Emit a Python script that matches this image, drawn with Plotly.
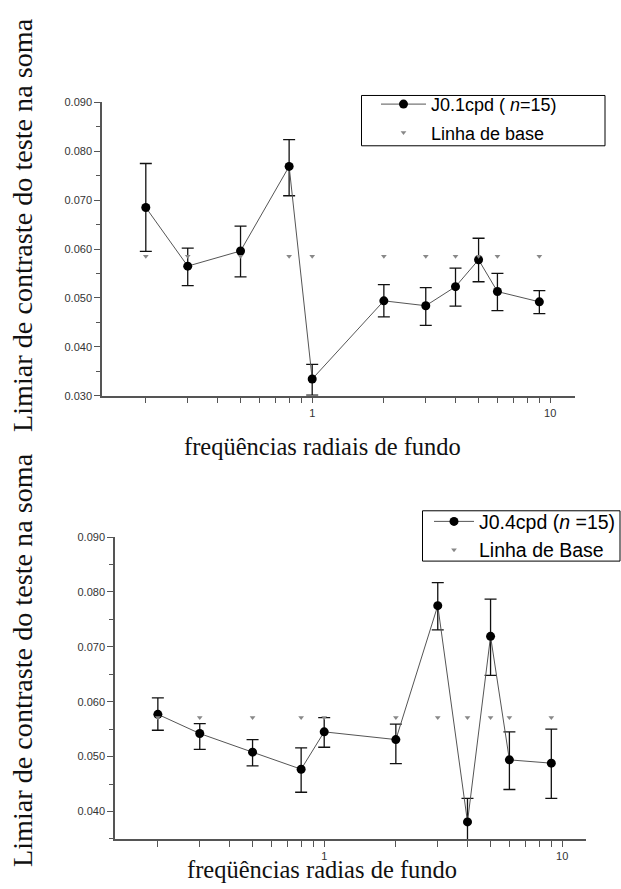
import plotly.graph_objects as go

# ---- data ----
freq = [0.2, 0.3, 0.5, 0.8, 1, 2, 3, 4, 5, 6, 9]

top_mean = [0.0685, 0.0565, 0.0596, 0.0769, 0.0334, 0.0494, 0.0484, 0.0523, 0.0578, 0.0513, 0.0492]
top_upper = [0.0775, 0.0602, 0.0647, 0.0824, 0.0364, 0.0527, 0.0521, 0.0561, 0.0622, 0.0550, 0.0515]
top_lower = [0.0595, 0.0525, 0.0543, 0.0709, 0.0301, 0.0461, 0.0444, 0.0483, 0.0533, 0.0474, 0.0468]
top_base = [0.0585] * 11

bot_mean = [0.0577, 0.0542, 0.0508, 0.0477, 0.0545, 0.0531, 0.0775, 0.0381, 0.0719, 0.0494, 0.0488]
bot_upper = [0.0607, 0.0560, 0.0531, 0.0516, 0.0571, 0.0559, 0.0817, 0.0424, 0.0787, 0.0545, 0.0550]
bot_lower = [0.0548, 0.0513, 0.0483, 0.0435, 0.0517, 0.0487, 0.0731, 0.0338, 0.0648, 0.0440, 0.0424]
bot_base = [0.0571] * 11

xtick_vals = [0.2, 0.3, 0.4, 0.5, 0.6, 0.7, 0.8, 0.9, 1, 2, 3, 4, 5, 6, 7, 8, 9, 10]
xtick_text = ["1" if v == 1 else ("10" if v == 10 else "") for v in xtick_vals]

ytitle = "Limiar de contraste do teste na soma"
xtitle_top = "freqüências radiais de fundo"
xtitle_bot = "freqüências radias de fundo"
leg_top = ["J0.1cpd ( <i>n</i>=15)", "Linha de base"]
leg_bot = ["J0.4cpd (<i>n</i> =15)", "Linha de Base"]

W, H = 621, 889
serif = "Liberation Serif, DejaVu Serif, serif"
sans = "Liberation Sans, Arial, sans-serif"


def px(x):
    return x / W


def py(y):
    return 1 - y / H


def err(mean, up, lo):
    return dict(type="data", symmetric=False,
                array=[u - m for u, m in zip(up, mean)],
                arrayminus=[m - l for m, l in zip(mean, lo)],
                color="#111", thickness=1.3, width=6)


fig = go.Figure()
fig.add_trace(go.Scatter(x=freq, y=top_mean, mode="lines+markers", name=leg_top[0],
                         line=dict(color="#555", width=1),
                         marker=dict(symbol="circle", size=9, color="black"),
                         error_y=err(top_mean, top_upper, top_lower),
                         xaxis="x", yaxis="y", legend="legend", legendgroup="a"))
fig.add_trace(go.Scatter(x=freq, y=top_base, mode="markers", name=leg_top[1],
                         marker=dict(symbol="triangle-down", size=5, color="#888"),
                         xaxis="x", yaxis="y", legend="legend", legendgroup="b"))
fig.add_trace(go.Scatter(x=freq, y=bot_mean, mode="lines+markers", name=leg_bot[0],
                         line=dict(color="#555", width=1),
                         marker=dict(symbol="circle", size=9, color="black"),
                         error_y=err(bot_mean, bot_upper, bot_lower),
                         xaxis="x2", yaxis="y2", legend="legend2", legendgroup="c"))
fig.add_trace(go.Scatter(x=freq, y=bot_base, mode="markers", name=leg_bot[1],
                         marker=dict(symbol="triangle-down", size=5, color="#888"),
                         xaxis="x2", yaxis="y2", legend="legend2", legendgroup="d"))

axis_common = dict(showline=True, linecolor="#555", linewidth=1.6, showgrid=False,
                   zeroline=False, ticks="outside", tickcolor="#555", ticklen=6,
                   tickwidth=1.2, tickfont=dict(family=sans, size=11, color="#333"))

xcommon = dict(axis_common, type="log", tickmode="array", tickvals=xtick_vals,
               ticktext=xtick_text)
ycommon = dict(axis_common, tickmode="linear", dtick=0.01, tickformat=".3f",
               minor=dict(dtick=0.005, ticks="outside", ticklen=4, tickcolor="#555"))

legend_common = dict(yanchor="top", borderwidth=0, bgcolor="rgba(0,0,0,0)",
                     traceorder="grouped")

box = dict(type="rect", xref="paper", yref="paper", line=dict(color="black", width=1),
           fillcolor="white", layer="below")

fig.update_layout(
    width=W, height=H, margin=dict(l=0, r=0, t=0, b=0),
    paper_bgcolor="white", plot_bgcolor="rgba(0,0,0,0)", showlegend=True,
    xaxis=dict(xcommon, domain=[px(102), px(575)], range=[-0.883, 1.104], anchor="y"),
    yaxis=dict(ycommon, domain=[py(395), py(97.7)], range=[0.030, 0.090],
               tick0=0.030, anchor="x"),
    xaxis2=dict(xcommon, domain=[px(115), px(586)], range=[-0.879, 1.10], anchor="y2"),
    yaxis2=dict(ycommon, domain=[py(844.3), py(538.3)], range=[0.035, 0.090],
                tick0=0.030, anchor="x2"),
    legend=dict(legend_common, x=px(376), xanchor="left", y=py(81),
                itemwidth=45, tracegroupgap=2,
                font=dict(family=sans, size=18, color="black")),
    legend2=dict(legend_common, x=1, xanchor="right", y=py(503),
                 itemwidth=40, tracegroupgap=0,
                 font=dict(family=sans, size=19.5, color="black")),
    shapes=[
        dict(box, x0=px(361.5), x1=px(605), y0=py(141.7), y1=py(90.7)),
        dict(box, x0=px(422.5), x1=px(620), y0=py(562.7), y1=py(511.7)),
    ],
    annotations=[
        dict(text=ytitle, x=px(22), y=py(222), xref="paper", yref="paper",
             textangle=-90, showarrow=False, xanchor="center", yanchor="middle",
             font=dict(family=serif, size=28.2, color="#111")),
        dict(text=ytitle, x=px(22), y=py(663), xref="paper", yref="paper",
             textangle=-90, showarrow=False, xanchor="center", yanchor="middle",
             font=dict(family=serif, size=28.2, color="#111")),
        dict(text=xtitle_top, x=px(322), y=py(447), xref="paper", yref="paper",
             showarrow=False, xanchor="center", yanchor="middle",
             font=dict(family=serif, size=24.5, color="#111")),
        dict(text=xtitle_bot, x=px(322), y=py(875), xref="paper", yref="paper",
             showarrow=False, xanchor="center", yanchor="middle",
             font=dict(family=serif, size=24.5, color="#111")),
    ],
)

fig.write_html("out.html", config={"displayModeBar": False},
               post_script="document.body.style.margin='0px';")
